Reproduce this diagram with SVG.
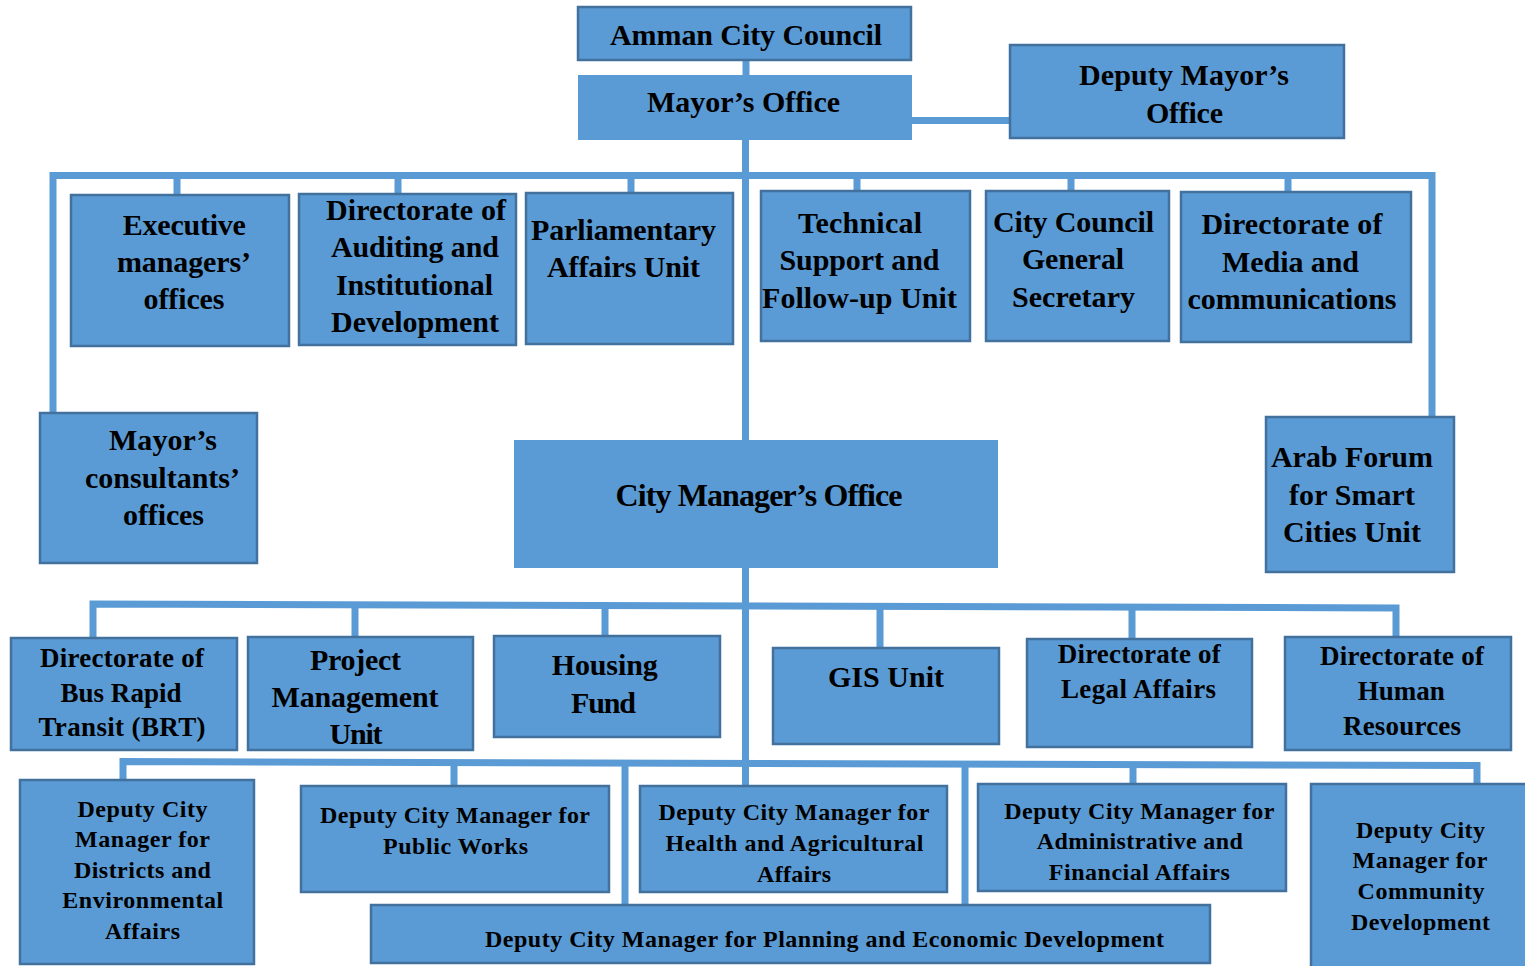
<svg xmlns="http://www.w3.org/2000/svg" width="1525" height="966" viewBox="0 0 1525 966">
<style>
.box{fill:#5b9bd5;stroke:#41719c;stroke-width:2.5}
.plain{fill:#5b9bd5}
.c{stroke:#5b9bd5;stroke-width:7;fill:none;stroke-linejoin:miter}
text{font-family:"Liberation Serif","Times New Roman",serif;font-weight:bold;fill:#000;text-anchor:middle}
.s30{font-size:30px}.s32{font-size:32px}.s27{font-size:27px}.s24{font-size:24px}
</style>
<rect width="1525" height="966" fill="#fff"/>
<g id="connectors">
<path class="c" d="M746,60V75"/>
<path class="c" d="M745.5,140V440"/>
<path class="c" d="M911,120.5H1010"/>
<path class="c" d="M53,413V175.5H1432V417"/>
<path class="c" d="M177,175V195M398,175V194M631,175V193M857,175V191M1071,175V191M1288,175V192"/>
<path class="c" d="M745.5,568V786"/>
<path class="c" d="M93,638V604L1396,608V637"/>
<path class="c" d="M355,605V637M605,605V636M880,606V648M1132,607V639"/>
<path class="c" d="M123,780V761.5L1477,765.5V784"/>
<path class="c" d="M454,762V786M625,763V905M965,764V905M1133,764V784"/>
</g>
<g id="amman"><rect class="box" x="578" y="7" width="333" height="53"/><text class="s30" x="746" y="45" textLength="272">Amman City Council</text></g>
<g id="mayor"><rect class="plain" x="578" y="75" width="334" height="65"/><text class="s30" x="743.5" y="112" textLength="193">Mayor’s Office</text></g>
<g id="deputy-mayor"><rect class="box" x="1010" y="45" width="334" height="93"/><text class="s30" x="1184" y="85" textLength="210">Deputy Mayor’s</text><text class="s30" x="1184.5" y="123" textLength="77">Office</text></g>
<g id="exec"><rect class="box" x="71" y="195" width="218" height="151"/><text class="s30" x="184.3" y="235" textLength="123">Executive</text><text class="s30" x="184" y="272" textLength="134">managers’</text><text class="s30" x="184" y="309" textLength="81">offices</text></g>
<g id="audit"><rect class="box" x="299" y="194" width="217" height="151"/><text class="s30" x="416" y="220" textLength="180">Directorate of</text><text class="s30" x="415" y="257" textLength="168">Auditing and</text><text class="s30" x="414.5" y="295" textLength="157">Institutional</text><text class="s30" x="415" y="332" textLength="168">Development</text></g>
<g id="parl"><rect class="box" x="526" y="193" width="207" height="151"/><text class="s30" x="623.5" y="240" textLength="185">Parliamentary</text><text class="s30" x="623.5" y="277" textLength="153">Affairs Unit</text></g>
<g id="tech"><rect class="box" x="761" y="191" width="209" height="150"/><text class="s30" x="860" y="233" textLength="124">Technical</text><text class="s30" x="859.5" y="270" textLength="160">Support and</text><text class="s30" x="859.5" y="308" textLength="195">Follow-up Unit</text></g>
<g id="ccgs"><rect class="box" x="986" y="191" width="183" height="150"/><text class="s30" x="1073.5" y="232" textLength="161">City Council</text><text class="s30" x="1073" y="269" textLength="102">General</text><text class="s30" x="1073.5" y="307" textLength="123">Secretary</text></g>
<g id="media"><rect class="box" x="1181" y="192" width="230" height="150"/><text class="s30" x="1292" y="234" textLength="181">Directorate of</text><text class="s30" x="1290.5" y="272" textLength="137">Media and</text><text class="s30" x="1292" y="309" textLength="209">communications</text></g>
<g id="consultants"><rect class="box" x="40" y="413" width="217" height="150"/><text class="s30" x="163" y="450" textLength="108">Mayor’s</text><text class="s30" x="162.5" y="488" textLength="155">consultants’</text><text class="s30" x="163.5" y="525" textLength="81">offices</text></g>
<g id="city-manager"><rect class="plain" x="514" y="440" width="484" height="128"/><text class="s32" x="759" y="506" textLength="287">City Manager’s Office</text></g>
<g id="arab-forum"><rect class="box" x="1266" y="417" width="188" height="155"/><text class="s30" x="1352" y="467" textLength="162">Arab Forum</text><text class="s30" x="1352" y="505" textLength="126">for Smart</text><text class="s30" x="1352" y="542" textLength="138">Cities Unit</text></g>
<g id="brt"><rect class="box" x="11" y="638" width="226" height="112"/><text class="s27" x="122" y="667" textLength="164">Directorate of</text><text class="s27" x="121" y="702" textLength="121">Bus Rapid</text><text class="s27" x="122" y="736" textLength="167">Transit (BRT)</text></g>
<g id="pmu"><rect class="box" x="248" y="637" width="225" height="113"/><text class="s30" x="355.5" y="670" textLength="91">Project</text><text class="s30" x="355" y="707" textLength="167">Management</text><text class="s30" x="356" y="744" textLength="53">Unit</text></g>
<g id="housing"><rect class="box" x="494" y="636" width="226" height="101"/><text class="s30" x="604.7" y="675" textLength="106">Housing</text><text class="s30" x="603.5" y="713" textLength="65">Fund</text></g>
<g id="gis"><rect class="box" x="773" y="648" width="226" height="96"/><text class="s30" x="886" y="687" textLength="116">GIS Unit</text></g>
<g id="legal"><rect class="box" x="1027" y="639" width="225" height="108"/><text class="s27" x="1139.3" y="663" textLength="163">Directorate of</text><text class="s27" x="1138.5" y="698" textLength="155">Legal Affairs</text></g>
<g id="hr"><rect class="box" x="1285" y="637" width="226" height="113"/><text class="s27" x="1402" y="665" textLength="164">Directorate of</text><text class="s27" x="1401.3" y="700" textLength="87">Human</text><text class="s27" x="1402" y="735" textLength="118">Resources</text></g>
<g id="districts"><rect class="box" x="20" y="780" width="234" height="184"/><text class="s24" x="142.5" y="817" textLength="130">Deputy City</text><text class="s24" x="142.5" y="847" textLength="135">Manager for</text><text class="s24" x="142.4" y="878" textLength="137">Districts and</text><text class="s24" x="142.7" y="908" textLength="161">Environmental</text><text class="s24" x="142.5" y="939" textLength="75">Affairs</text></g>
<g id="public-works"><rect class="box" x="301" y="786" width="308" height="106"/><text class="s24" x="455" y="823" textLength="270">Deputy City Manager for</text><text class="s24" x="455.5" y="854" textLength="145">Public Works</text></g>
<g id="health"><rect class="box" x="640" y="786" width="307" height="106"/><text class="s24" x="794" y="820" textLength="271">Deputy City Manager for</text><text class="s24" x="794.5" y="851" textLength="258">Health and Agricultural</text><text class="s24" x="794" y="882" textLength="74">Affairs</text></g>
<g id="admin-finance"><rect class="box" x="978" y="784" width="308" height="107"/><text class="s24" x="1139.3" y="819" textLength="270">Deputy City Manager for</text><text class="s24" x="1139.8" y="849" textLength="206">Administrative and</text><text class="s24" x="1139.3" y="880" textLength="181">Financial Affairs</text></g>
<g id="community"><rect class="box" x="1311" y="784" width="222" height="190"/><text class="s24" x="1420.5" y="838" textLength="129">Deputy City</text><text class="s24" x="1420" y="868" textLength="135">Manager for</text><text class="s24" x="1421" y="899" textLength="127">Community</text><text class="s24" x="1420.5" y="930" textLength="139">Development</text></g>
<g id="planning"><rect class="box" x="371" y="905" width="839" height="58"/><text class="s24" x="824.5" y="947" textLength="679">Deputy City Manager for Planning and Economic Development</text></g>
</svg>
